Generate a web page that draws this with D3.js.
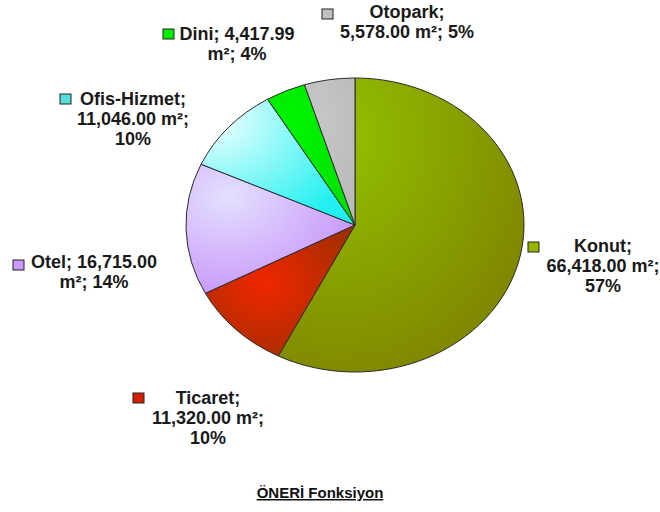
<!DOCTYPE html>
<html><head><meta charset="utf-8">
<script src="https://cdn.jsdelivr.net/npm/d3@7"></script>
<style>html,body{margin:0;padding:0;background:#fff;}svg{display:block;font-family:"Liberation Sans",Arial,sans-serif;}</style>
</head><body>
<svg id="chart" width="660" height="512"></svg>
<script>
const categories = ["Konut", "Ticaret", "Otel", "Ofis-Hizmet", "Dini", "Otopark"];
const values = [66418.00, 11320.00, 16715.00, 11046.00, 4417.99, 5578.00];
const percents = [57, 10, 14, 10, 4, 5];
const title = "ÖNERİ Fonksiyon";

const svg = d3.select("#chart");
const W = 660, H = 512;
svg.append("rect").attr("width", W).attr("height", H).attr("fill", "#fff");

const cx = 355, cy = 225, rx = 169, ry = 147;

// radial gradient styles: [inner colour, outer colour, focus x, focus y, radius]
const grads = [
  ["#92c000", "#7c7a00", 0.25, 0.2, 1.05],
  ["#f02600", "#963000", 0.4, 0.45, 0.75],
  ["#e4e0ff", "#c48ef8", 0.25, 0.25, 0.9],
  ["#f4ffff", "#22f0f0", 0.08, 0.15, 1.0],
  ["#00f400", "#00e000", 0.3, 0.3, 0.9],
  ["#c6c6c6", "#bababa", 0.3, 0.3, 0.9]
];
const markerColors = ["#99b400", "#d42000", "#cc99ff", "#55dede", "#00ee00", "#c0c0c0"];

const defs = svg.append("defs");
grads.forEach((g, i) => {
  const rg = defs.append("radialGradient").attr("id", "g" + i)
    .attr("cx", g[2]).attr("cy", g[3]).attr("fx", g[2]).attr("fy", g[3]).attr("r", g[4]);
  rg.append("stop").attr("offset", "0%").attr("stop-color", g[0]);
  rg.append("stop").attr("offset", "100%").attr("stop-color", g[1]);
});

const pie = d3.pie().sort(null).value(d => d)(values);
const arc = d3.arc().innerRadius(0).outerRadius(rx);

const pg = svg.append("g").attr("transform", `translate(${cx},${cy}) scale(1,${ry / rx})`);
pg.selectAll("path").data(pie).join("path")
  .attr("d", arc)
  .attr("fill", (d, i) => `url(#g${i})`)
  .attr("stroke", "#2a2a2a")
  .attr("stroke-width", 1)
  .attr("vector-effect", "non-scaling-stroke");

const fmt = d3.format(",.2f");
// label layouts (positions only); text lines built from data arrays
const layouts = [
  {x: 603, y: 252, mx: 528, my: 242, split: (c, v, p) => [`${c};`, `${v} m²;`, `${p}%`]},
  {x: 208, y: 404, mx: 133, my: 393, split: (c, v, p) => [`${c};`, `${v} m²;`, `${p}%`]},
  {x: 94, y: 268, mx: 13, my: 260, split: (c, v, p) => [`${c}; ${v}`, `m²; ${p}%`]},
  {x: 133, y: 105, mx: 60, my: 94, split: (c, v, p) => [`${c};`, `${v} m²;`, `${p}%`]},
  {x: 237, y: 40, mx: 163, my: 29, split: (c, v, p) => [`${c}; ${v}`, `m²; ${p}%`]},
  {x: 407, y: 18, mx: 322, my: 9, split: (c, v, p) => [`${c};`, `${v} m²; ${p}%`]}
];

const lg = svg.append("g");
categories.forEach((c, i) => {
  const L = layouts[i];
  const lines = L.split(c, fmt(values[i]), percents[i]);
  const t = lg.append("text").attr("text-anchor", "middle")
    .attr("font-size", 18).attr("font-weight", "bold").attr("fill", "#1a1a1a");
  lines.forEach((ln, j) => {
    t.append("tspan").attr("x", L.x).attr("y", L.y + j * 20).text(ln);
  });
  lg.append("rect").attr("x", L.mx).attr("y", L.my).attr("width", 11).attr("height", 10)
    .attr("fill", markerColors[i]).attr("stroke", "#222").attr("stroke-width", 1);
});

svg.append("text").attr("x", 320).attr("y", 498).attr("text-anchor", "middle")
  .attr("font-size", 15).attr("font-weight", "bold").attr("fill", "#111")
  .attr("text-decoration", "underline")
  .text(title);
</script>
</body></html>
